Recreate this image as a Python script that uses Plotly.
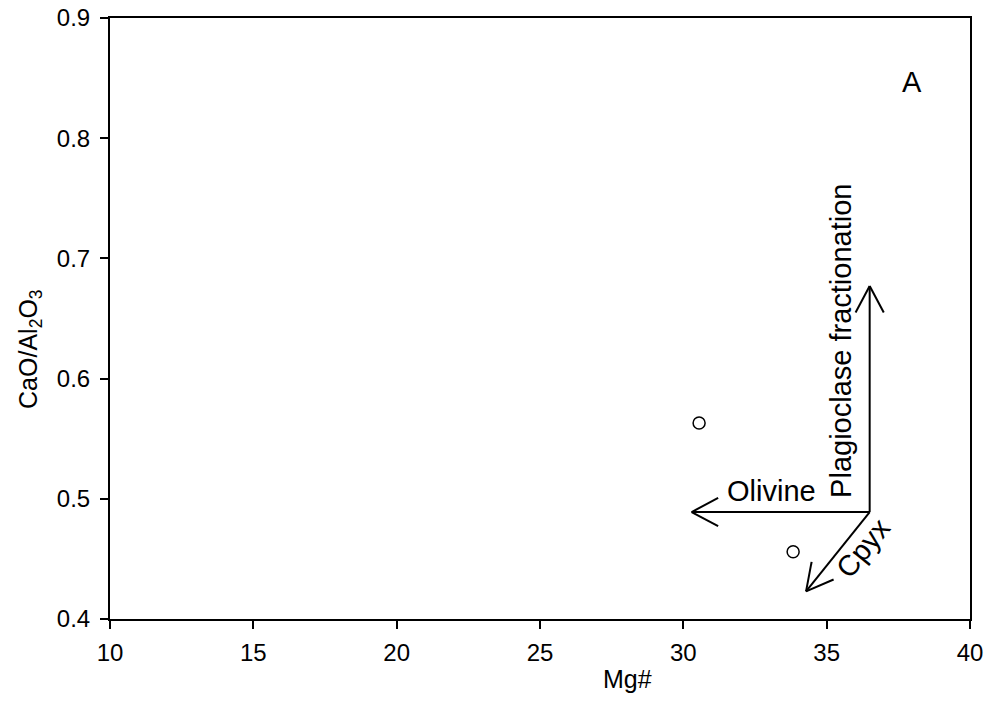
import math
import plotly.graph_objects as go

# Sample compositions
mg_num = [30.55, 33.83]
cao_al2o3 = [0.563, 0.456]

# Axis settings
x_range = [10, 40]
y_range = [0.4, 0.9]
x_ticks = [10, 15, 20, 25, 30, 35, 40]
y_ticks = [0.4, 0.5, 0.6, 0.7, 0.8, 0.9]

# Fractionation vectors: common origin and end points
vec_origin = (36.5, 0.489)
vec_names = ["Olivine", "Plagioclase fractionation", "Cpyx"]
vec_ends_x = [30.29, 36.5, 34.28]
vec_ends_y = [0.489, 0.677, 0.423]

W, H = 988, 722
M = dict(l=110, r=18, t=18, b=103, autoexpand=False)
PW = W - M["l"] - M["r"]
PH = H - M["t"] - M["b"]
FONT = "Liberation Sans, Arial, sans-serif"


def to_px(x, y):
    px = (x - x_range[0]) / (x_range[1] - x_range[0]) * PW
    py = (y - y_range[0]) / (y_range[1] - y_range[0]) * PH
    return px, py


def from_px(px, py):
    x = x_range[0] + px / PW * (x_range[1] - x_range[0])
    y = y_range[0] + py / PH * (y_range[1] - y_range[0])
    return x, y


def arrow_shapes(x0, y0, x1, y1, head_len=30, head_ang=28):
    """Shaft plus two open barbs, barbs sized in screen pixels."""
    line = dict(color="black", width=2)
    shapes = [dict(type="line", xref="x", yref="y", x0=x0, y0=y0, x1=x1, y1=y1, line=line)]
    a0 = to_px(x0, y0)
    a1 = to_px(x1, y1)
    ang = math.atan2(a0[1] - a1[1], a0[0] - a1[0])
    for s in (-1, 1):
        t = ang + s * math.radians(head_ang)
        bx, by = from_px(a1[0] + head_len * math.cos(t), a1[1] + head_len * math.sin(t))
        shapes.append(dict(type="line", xref="x", yref="y", x0=x1, y0=y1, x1=bx, y1=by, line=line))
    return shapes


shapes = []
for ex, ey in zip(vec_ends_x, vec_ends_y):
    shapes += arrow_shapes(vec_origin[0], vec_origin[1], ex, ey)

fig = go.Figure()
fig.add_trace(go.Scatter(
    x=mg_num, y=cao_al2o3, mode="markers",
    marker=dict(symbol="circle-open", size=12, color="black", line=dict(width=1.5)),
    showlegend=False, hoverinfo="x+y",
))

label_font = dict(family=FONT, size=29, color="black")
title_font = dict(family=FONT, size=25, color="black")
annotations = [
    dict(x=33.09, y=0.5065, xref="x", yref="y", text=vec_names[0], showarrow=False,
         font=label_font, xanchor="center", yanchor="middle"),
    dict(x=35.52, y=0.631, xref="x", yref="y", text=vec_names[1], showarrow=False,
         font=label_font, textangle=-90, xanchor="center", yanchor="middle"),
    dict(x=36.27, y=0.459, xref="x", yref="y", text=vec_names[2], showarrow=False,
         font=label_font, textangle=-51, xanchor="center", yanchor="middle"),
    # Panel letter
    dict(x=37.98, y=0.847, xref="x", yref="y", text="A", showarrow=False, font=label_font,
         xanchor="center", yanchor="middle"),
    # Axis titles
    dict(x=0.5, y=0, xref="paper", yref="paper", text="Mg#", showarrow=False,
         font=title_font, xanchor="center", yanchor="middle", xshift=87, yshift=-60),
    dict(x=0, y=0.461, xref="paper", yref="paper", text="CaO/Al<sub>2</sub>O<sub>3</sub>",
         showarrow=False, font=title_font, textangle=-90,
         xanchor="center", yanchor="middle", xshift=-80, yshift=-7),
]

axis_common = dict(
    showline=True, linecolor="black", linewidth=2, mirror=True,
    ticks="outside", ticklen=8, tickwidth=1.5, tickcolor="black",
    showgrid=False, zeroline=False, automargin=False,
    tickfont=dict(family=FONT, size=24, color="black"),
)

fig.update_layout(
    width=W, height=H, margin=M,
    paper_bgcolor="white", plot_bgcolor="white",
    xaxis=dict(range=x_range, tickvals=x_ticks, ticktext=[str(v) for v in x_ticks],
               ticklabelstandoff=3, **axis_common),
    yaxis=dict(range=y_range, tickvals=y_ticks, ticktext=[f"{v:.1f}" for v in y_ticks],
               ticklabelstandoff=5, **axis_common),
    shapes=shapes, annotations=annotations,
    font=dict(family=FONT),
)

fig.write_html("out.html", config={"displayModeBar": False})
